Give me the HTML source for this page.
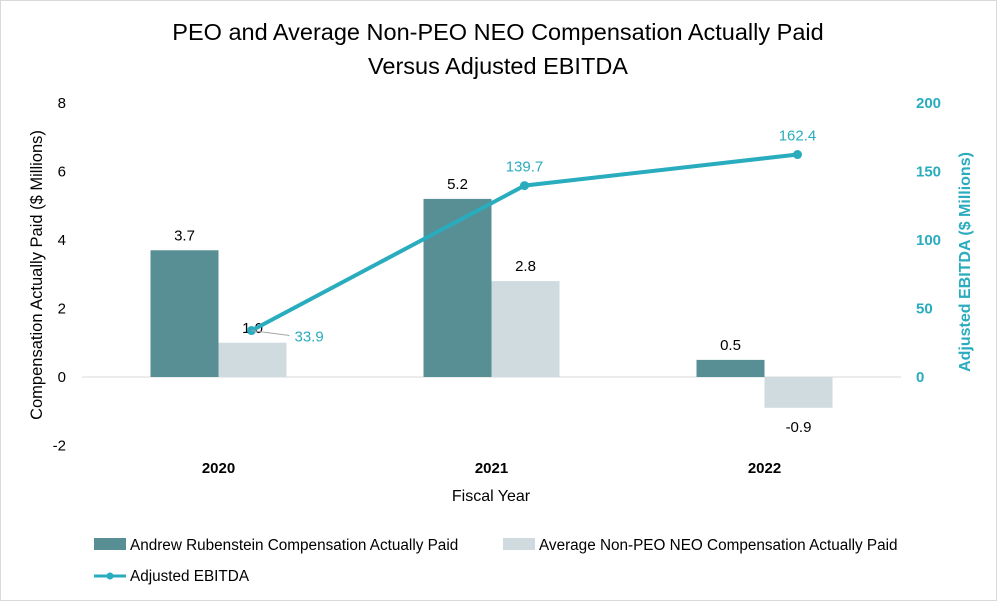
<!DOCTYPE html>
<html><head><meta charset="utf-8"><style>
body{margin:0;background:#fff}
svg{display:block;font-family:"Liberation Sans",Arial,sans-serif}
</style></head><body>
<svg id="chart" width="997" height="601" viewBox="0 0 997 601">
<rect x="0.5" y="0.5" width="996" height="600" fill="#fff" stroke="#d9d9d9"/>
<text x="498" y="40" font-size="23.5" text-anchor="middle" fill="#000">PEO and Average Non-PEO NEO Compensation Actually Paid</text>
<text x="498" y="74" font-size="23.5" text-anchor="middle" fill="#000">Versus Adjusted EBITDA</text>
<text transform="translate(42,275) rotate(-90)" font-size="16.5" text-anchor="middle" fill="#000">Compensation Actually Paid ($ Millions)</text>
<text transform="translate(970,262) rotate(-90)" font-size="16" font-weight="bold" text-anchor="middle" fill="#2aacbf">Adjusted EBITDA ($ Millions)</text>
<text x="491" y="501" font-size="16" text-anchor="middle" fill="#000">Fiscal Year</text>
<g id="marks"></g>
<g>
<rect x="94" y="538" width="32" height="12" fill="#578f94"/>
<text x="130" y="550" font-size="15.3" fill="#000">Andrew Rubenstein Compensation Actually Paid</text>
<rect x="503" y="538" width="32" height="12" fill="#cfdbdf"/>
<text x="539" y="550" font-size="15.3" fill="#000">Average Non-PEO NEO Compensation Actually Paid</text>
<line x1="94" y1="576" x2="126" y2="576" stroke="#2aacbf" stroke-width="3"/>
<circle cx="110" cy="576" r="3.5" fill="#2aacbf"/>
<text x="130" y="581" font-size="15.3" fill="#000">Adjusted EBITDA</text>
</g>
</svg>
<script>
const categories=["2020","2021","2022"];
const peoValues=[3.7,5.2,0.5];
const neoValues=[1.0,2.8,-0.9];
const ebitdaValues=[33.9,139.7,162.4];
const leftTicks=[-2,0,2,4,6,8];
const rightTicks=[0,50,100,150,200];
const NS="http://www.w3.org/2000/svg";
const g=document.getElementById("marks");
const plotL=82,catW=273;
const yL=v=>377-v*34.25;
const yR=v=>377-v*1.37;
const xC=i=>plotL+catW*(i+0.5);
function mk(t,a,txt){const e=document.createElementNS(NS,t);for(const k in a)e.setAttribute(k,a[k]);if(txt!=null)e.textContent=txt;g.appendChild(e);return e;}
let zl=mk("line",{x1:plotL,x2:plotL+catW*3,y1:yL(0),y2:yL(0),stroke:"#d9d9d9"});


leftTicks.forEach(t=>{const e=mk("text",{x:66,y:yL(t)+5,"font-size":15,"text-anchor":"end",fill:"#000"},String(t));

});
rightTicks.forEach(t=>{const e=mk("text",{x:916,y:yR(t)+5,"font-size":15,"font-weight":"bold",fill:"#2aacbf"},String(t));

});
categories.forEach((c,i)=>{
 const cx=xC(i);
 const e=mk("text",{x:cx,y:473,"font-size":15,"font-weight":"bold","text-anchor":"middle",fill:"#000"},c);
 
 
 const p=peoValues[i],n=neoValues[i];
 const b1=mk("rect",{x:cx-68,y:Math.min(yL(p),yL(0)),width:68,height:Math.abs(yL(p)-yL(0)),fill:"#578f94"});
 
 
 const b2=mk("rect",{x:cx,y:Math.min(yL(n),yL(0)),width:68,height:Math.abs(yL(n)-yL(0)),fill:"#cfdbdf"});
 
 
 const l1=mk("text",{x:cx-34,y:yL(p)-10,"font-size":15,"text-anchor":"middle",fill:"#000"},p.toFixed(1));
 
 
 const l2=mk("text",{x:cx+34,y:n>=0?yL(n)-10:yL(n)+24,"font-size":15,"text-anchor":"middle",fill:"#000"},n.toFixed(1));
 
 
});
const lx=i=>xC(i)+33;
const line=mk("polyline",{points:ebitdaValues.map((v,i)=>lx(i)+","+yR(v)).join(" "),fill:"none",stroke:"#2aacbf","stroke-width":4});


ebitdaValues.forEach((v,i)=>{
 const c=mk("circle",{cx:lx(i),cy:yR(v),r:4.5,fill:"#2aacbf"});
 
 
 let t;
 if(i===0){
  const ll=mk("line",{x1:lx(i),y1:yR(v),x2:lx(i)+38,y2:yR(v)+5,stroke:"#a6a6a6"});
  
  
  t=mk("text",{x:lx(i)+43,y:yR(v)+11,"font-size":15,fill:"#2aacbf"},v.toFixed(1));
 } else {
  t=mk("text",{x:lx(i),y:yR(v)-14,"font-size":15,"text-anchor":"middle",fill:"#2aacbf"},v.toFixed(1));
 }
 
 
});
</script>
</body></html>
